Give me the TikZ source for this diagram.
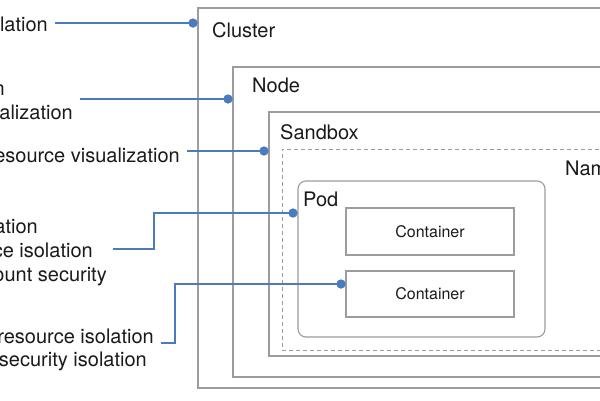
\documentclass[tikz,border=0pt]{standalone}
\usepackage{fontspec}
\setmainfont{TeX Gyre Heros}
\begin{document}
\begin{tikzpicture}[x=1pt,y=-1pt,
  box/.style={draw=boxgray, line width=1.1pt, anchor=north west, inner sep=0pt, outer sep=0pt},
  dashbox/.style={box, dash pattern=on 4pt off 3pt, line width=0.9pt},
  cbox/.style={box, font=\fontsize{16}{19}\selectfont, text=txt},
  lbl/.style={font=\fontsize{20}{24}\selectfont, text=txt, inner sep=0pt, anchor=base west},
  side/.style={font=\fontsize{20}{24}\selectfont, text=txt, inner sep=0pt, anchor=base east},
  conn/.style={draw=linkblue, line width=1.8pt},
  dot/.style={circle, fill=linkblue, inner sep=0pt, minimum size=9pt}]
\definecolor{boxgray}{HTML}{9C9C9C}
\definecolor{linkblue}{HTML}{4A7BBF}
\definecolor{txt}{HTML}{1A1A1A}
\useasboundingbox (0,0) rectangle (600,400);
\fill[white] (0,0) rectangle (600,400);
\clip (0,0) rectangle (600,400);

% nested boxes
\node[box, minimum width=422pt, minimum height=380pt] (cluster) at (198,8) {};
\node[box, minimum width=387pt, minimum height=310pt] (node) at (233,67) {};
\node[box, minimum width=351pt, minimum height=244pt] (sandbox) at (269,112) {};
\node[dashbox, minimum width=338pt, minimum height=201pt] (ns) at (282,149) {};
\node[box, rounded corners=8pt, minimum width=247pt, minimum height=156pt] (pod) at (298,181) {};
\node[cbox, minimum width=168pt, minimum height=47pt] (c1) at (346,208) {};
\node[cbox, minimum width=168pt, minimum height=46pt] (c2) at (346,271) {};
\node[font=\fontsize{16}{19}\selectfont, text=txt] (c1t) at (c1.center) {Container};
\node[font=\fontsize{16}{19}\selectfont, text=txt] (c2t) at (c2.center) {Container};

% box titles
\node[lbl] (tcluster) at (212,37) {Cluster};
\node[lbl] (tnode) at (252,92) {Node};
\node[lbl] (tsandbox) at (280,139) {Sandbox};
\node[lbl] (tns) at (565,175) {Nam};
\node[lbl] (tpod) at (303,206) {Pod};

% side labels
\node[side] (a1) at (48,31) {lation};
\node[side] (a2) at (5,95) {n};
\node[side] (a2b) at (73,119) {alization};
\node[side] (a3) at (180,162) {resource visualization};
\node[side] (a4) at (38,233) {ation};
\node[side] (a4b) at (93,257) {ce isolation};
\node[side] (a4c) at (107,281) {ount security};
\node[side] (a5) at (154,343) {resource isolation};
\node[side] (a5b) at (147,366) {security isolation};

% connector ends
\coordinate (s1) at (55,23);
\coordinate (s2) at (80,99);
\coordinate (s3) at (187,151);
\coordinate (s4) at (113,249);
\coordinate (s5) at (161,343);
\node[dot] (d1) at (193,23) {};
\node[dot] (d2) at (228,99) {};
\node[dot] (d3) at (264,151) {};
\node[dot] (d4) at (293,213) {};
\node[dot] (d5) at (341,284) {};

\draw[conn] (s1) -- (d1.center);
\draw[conn] (s2) -- (d2.center);
\draw[conn] (s3) -- (d3.center);
\draw[conn] (s4) -- ++(41,0) |- (d4.center);
\draw[conn] (s5) -- ++(14,0) |- (d5.center);
\node[dot] at (d1) {};
\node[dot] at (d2) {};
\node[dot] at (d3) {};
\node[dot] at (d4) {};
\node[dot] at (d5) {};
\end{tikzpicture}
\end{document}
